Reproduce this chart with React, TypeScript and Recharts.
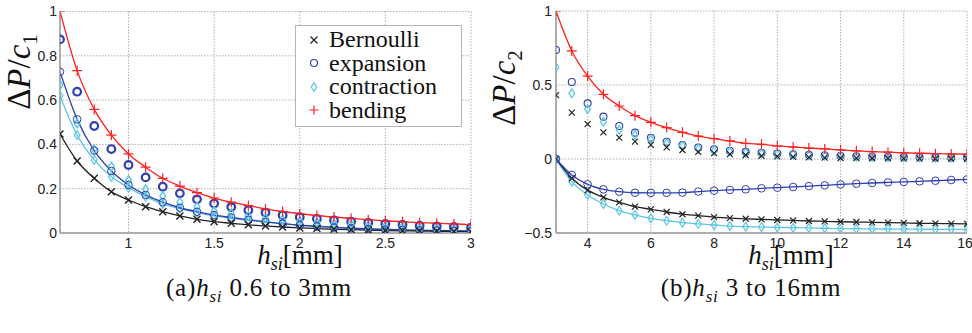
import React from 'react';
import { LineChart, Line, XAxis, YAxis, CartesianGrid } from 'recharts';

// panel (a): h_si 0.6 .. 3 mm
const xA = [0.6, 0.7, 0.8, 0.9, 1.0, 1.1, 1.2, 1.3, 1.4, 1.5, 1.6, 1.7, 1.8, 1.9, 2.0, 2.1, 2.2, 2.3, 2.4, 2.5, 2.6, 2.7, 2.8, 2.9, 3.0];
const bendA = [1.0, 0.733, 0.558, 0.442, 0.357, 0.297, 0.247, 0.212, 0.182, 0.158, 0.139, 0.124, 0.108, 0.097, 0.087, 0.079, 0.072, 0.066, 0.06, 0.055, 0.051, 0.047, 0.044, 0.041, 0.038];
const expMeasA = [0.874, 0.638, 0.483, 0.379, 0.307, 0.251, 0.209, 0.179, 0.152, 0.133, 0.117, 0.103, 0.092, 0.08, 0.071, 0.064, 0.057, 0.051, 0.046, 0.041, 0.037, 0.033, 0.03, 0.027, 0.024];
const conMeasA = [0.668, 0.495, 0.378, 0.3, 0.239, 0.197, 0.167, 0.139, 0.119, 0.1, 0.089, 0.077, 0.068, 0.06, 0.054, 0.048, 0.043, 0.039, 0.035, 0.031, 0.028, 0.025, 0.023, 0.02, 0.018];
const expA = [0.728, 0.513, 0.372, 0.28, 0.217, 0.172, 0.139, 0.114, 0.096, 0.081, 0.07, 0.06, 0.05, 0.042, 0.035, 0.03, 0.025, 0.021, 0.018, 0.016, 0.014, 0.012, 0.011, 0.01, 0.009];
const conA = [0.62, 0.442, 0.33, 0.254, 0.205, 0.164, 0.131, 0.11, 0.092, 0.077, 0.066, 0.057, 0.049, 0.042, 0.036, 0.031, 0.027, 0.023, 0.02, 0.017, 0.015, 0.013, 0.012, 0.011, 0.01];
const bernA = [0.447, 0.325, 0.247, 0.186, 0.149, 0.119, 0.096, 0.077, 0.062, 0.051, 0.044, 0.037, 0.032, 0.027, 0.023, 0.02, 0.017, 0.015, 0.013, 0.011, 0.01, 0.009, 0.008, 0.007, 0.006];
const xTicksA = [0.6, 1, 1.5, 2, 2.5, 3];
const yTicksA = [0, 0.2, 0.4, 0.6, 0.8, 1];

// panel (b): h_si 3 .. 16 mm
const xB = [3, 3.5, 4, 4.5, 5, 5.5, 6, 6.5, 7, 7.5, 8, 8.5, 9, 9.5, 10, 10.5, 11, 11.5, 12, 12.5, 13, 13.5, 14, 14.5, 15, 15.5, 16];
const bendB = [1.0, 0.73, 0.56, 0.437, 0.358, 0.293, 0.248, 0.212, 0.18, 0.155, 0.137, 0.122, 0.106, 0.099, 0.088, 0.081, 0.074, 0.068, 0.061, 0.055, 0.05, 0.046, 0.042, 0.039, 0.036, 0.034, 0.032];
const expMeasB = [0.736, 0.52, 0.376, 0.286, 0.223, 0.178, 0.144, 0.117, 0.095, 0.078, 0.066, 0.056, 0.048, 0.042, 0.037, 0.032, 0.028, 0.025, 0.022, 0.019, 0.017, 0.015, 0.013, 0.012, 0.011, 0.01, 0.009];
const conMeasB = [0.62, 0.444, 0.336, 0.252, 0.196, 0.162, 0.133, 0.106, 0.088, 0.068, 0.056, 0.05, 0.043, 0.038, 0.034, 0.03, 0.025, 0.022, 0.019, 0.016, 0.014, 0.012, 0.011, 0.01, 0.009, 0.008, 0.007];
const bernMeasB = [0.432, 0.313, 0.236, 0.18, 0.144, 0.117, 0.095, 0.079, 0.061, 0.048, 0.04, 0.033, 0.027, 0.022, 0.018, 0.014, 0.011, 0.009, 0.007, 0.006, 0.005, 0.004, 0.003, 0.003, 0.002, 0.002, 0.002];
const expB = [0, -0.108, -0.171, -0.205, -0.221, -0.228, -0.229, -0.229, -0.227, -0.22, -0.214, -0.209, -0.205, -0.198, -0.194, -0.189, -0.183, -0.178, -0.172, -0.167, -0.162, -0.158, -0.155, -0.151, -0.147, -0.142, -0.138];
const bernB = [0, -0.13, -0.21, -0.259, -0.293, -0.322, -0.34, -0.358, -0.373, -0.383, -0.393, -0.399, -0.404, -0.408, -0.412, -0.415, -0.419, -0.421, -0.424, -0.426, -0.428, -0.43, -0.432, -0.434, -0.435, -0.437, -0.438];
const conB = [0, -0.153, -0.243, -0.304, -0.349, -0.378, -0.401, -0.417, -0.43, -0.439, -0.446, -0.453, -0.457, -0.46, -0.462, -0.464, -0.466, -0.468, -0.47, -0.471, -0.472, -0.473, -0.474, -0.474, -0.475, -0.475, -0.476];
const xTicksB = [3, 4, 6, 8, 10, 12, 14, 16];
const yTicksB = [-0.5, 0, 0.5, 1];

const legendItems = [
  { name: 'Bernoulli', shape: 'x', color: '#222222' },
  { name: 'expansion', shape: 'o', color: '#2f3fb0' },
  { name: 'contraction', shape: 'd', color: '#5cc6e4' },
  { name: 'bending', shape: '+', color: '#ff2020' },
];

const RED = '#ff2020';
const BLUE = '#2f3fb0';
const CYAN = '#5cc6e4';
const BLACK = '#222222';

const serif = 'Liberation Serif, DejaVu Serif, serif';
const sans = 'Liberation Sans, Arial, sans-serif';

const rows = (xs: number[], ys: number[]) => xs.map((x, i) => ({ x, y: ys[i] }));

const Marker = ({ shape, cx, cy, color, r = 4, sw = 1 }: any) => {
  if (shape === 'x') {
    return <path d={`M${cx - r},${cy - r}L${cx + r},${cy + r}M${cx - r},${cy + r}L${cx + r},${cy - r}`} stroke={color} strokeWidth={sw} fill="none" />;
  }
  if (shape === 'o') {
    return <circle cx={cx} cy={cy} r={r} stroke={color} strokeWidth={sw} fill="none" />;
  }
  if (shape === 'd') {
    return <path d={`M${cx},${cy - r * 1.2}L${cx + r * 0.8},${cy}L${cx},${cy + r * 1.2}L${cx - r * 0.8},${cy}Z`} stroke={color} strokeWidth={sw} fill="none" />;
  }
  return <path d={`M${cx - r},${cy}L${cx + r},${cy}M${cx},${cy - r}L${cx},${cy + r}`} stroke={color} strokeWidth={sw} fill="none" />;
};

const dot = (shape: string, color: string, r: number, sw: number) => (p: any) => (
  <g key={`${shape}-${color}-${p.index}`}>
    {p.cx != null && p.cy != null && <Marker shape={shape} cx={p.cx} cy={p.cy} color={color} r={r} sw={sw} />}
  </g>
);

const tickStyle = { fontSize: 14, fill: '#222', fontFamily: sans };
const axisLine = { stroke: '#9a9a9a', strokeWidth: 1.5 };

const fmt = (v: number) => (v < 0 ? '\u2212' + String(-v) : String(v));

const Legend = () => (
  <div style={{ position: 'absolute', left: 295, top: 25, width: 167, height: 102, border: '1px solid #b5b5b5', background: '#fff', boxSizing: 'border-box', paddingTop: 2 }}>
    {legendItems.map((it) => (
      <div key={it.name} style={{ display: 'flex', alignItems: 'center', height: 23.5, lineHeight: '23px', fontFamily: serif, fontSize: 24, color: '#111' }}>
        <svg width={33} height={20} style={{ flex: 'none' }}>
          <Marker shape={it.shape} cx={18} cy={10} color={it.color} r={it.shape === '+' ? 4.5 : 3.5} sw={1.2} />
        </svg>
        <span>{it.name}</span>
      </div>
    ))}
  </div>
);

const YTitle = ({ x, y, sub }: { x: number; y: number; sub: string }) => (
  <div style={{ position: 'absolute', left: x, top: y, transform: 'translate(-50%, -50%) rotate(-90deg)', whiteSpace: 'nowrap', fontFamily: serif, fontSize: 33, lineHeight: '33px', color: '#111' }}>
    Δ<i>P</i>/<i>c</i><sub style={{ fontSize: 21 }}>{sub}</sub>
  </div>
);

const XTitle = ({ x, y }: { x: number; y: number }) => (
  <div style={{ position: 'absolute', left: x, top: y, transform: 'translate(-50%, -50%)', whiteSpace: 'nowrap', fontFamily: serif, fontSize: 27, lineHeight: '27px', color: '#111' }}>
    <i>h</i><sub style={{ fontSize: 18 }}><i>si</i></sub>[mm]
  </div>
);

const Caption = ({ x, y, tag, text }: { x: number; y: number; tag: string; text: string }) => (
  <div style={{ position: 'absolute', left: x, top: y, transform: 'translate(-50%, -50%)', whiteSpace: 'nowrap', fontFamily: serif, fontSize: 25, lineHeight: '25px', color: '#111', letterSpacing: 0.8 }}>
    ({tag})<i>h</i><sub style={{ fontSize: 17 }}><i>si</i></sub> {text}
  </div>
);

export default function App() {
  return (
    <div style={{ position: 'absolute', left: 0, top: 0, width: 972, height: 333, background: '#fff', overflow: 'hidden' }}>
      <div style={{ position: 'absolute', left: 0, top: 0 }}>
        <LineChart width={480} height={280} margin={{ top: 11.5, right: 9, left: 0, bottom: 17 }}>
          <CartesianGrid stroke="#b0b0b0" strokeDasharray="1.5 1.5" />
          <XAxis type="number" dataKey="x" domain={[0.6, 3]} ticks={xTicksA} tickFormatter={(v) => (v === 0.6 ? '' : String(v))} tick={tickStyle} tickSize={0} tickMargin={5} height={30} axisLine={axisLine} allowDataOverflow />
          <YAxis type="number" domain={[0, 1]} ticks={yTicksA} tickFormatter={fmt} tick={tickStyle} tickSize={0} tickMargin={3} width={60} axisLine={axisLine} allowDataOverflow />
          <Line data={rows(xA, expMeasA)} dataKey="y" stroke="none" dot={dot('o', BLUE, 3.8, 2.2)} isAnimationActive={false} />
          <Line data={rows(xA, conMeasA)} dataKey="y" stroke="none" dot={dot('d', CYAN, 3.6, 1.4)} isAnimationActive={false} />
          <Line data={rows(xA, bendA)} type="monotone" dataKey="y" stroke={RED} strokeWidth={1.3} dot={dot('+', RED, 5, 1.2)} isAnimationActive={false} />
          <Line data={rows(xA, conA)} type="monotone" dataKey="y" stroke={CYAN} strokeWidth={1.3} dot={dot('d', CYAN, 3.6, 1.2)} isAnimationActive={false} />
          <Line data={rows(xA, expA)} type="monotone" dataKey="y" stroke={BLUE} strokeWidth={1.3} dot={dot('o', BLUE, 3.8, 1)} isAnimationActive={false} />
          <Line data={rows(xA, bernA)} type="monotone" dataKey="y" stroke={BLACK} strokeWidth={1.3} dot={dot('x', BLACK, 3.5, 1.4)} isAnimationActive={false} />
        </LineChart>
      </div>
      <div style={{ position: 'absolute', left: 480, top: 0 }}>
        <LineChart width={492} height={280} margin={{ top: 11, right: 5, left: 0, bottom: 17 }}>
          <CartesianGrid stroke="#b0b0b0" strokeDasharray="1.5 1.5" />
          <XAxis type="number" dataKey="x" domain={[3, 16]} ticks={xTicksB} tickFormatter={(v) => (v === 3 ? '' : String(v))} tick={tickStyle} tickSize={0} tickMargin={5} height={30} axisLine={axisLine} allowDataOverflow />
          <YAxis type="number" domain={[-0.5, 1]} ticks={yTicksB} tickFormatter={fmt} tick={tickStyle} tickSize={0} tickMargin={4} width={76} axisLine={axisLine} allowDataOverflow />
          <Line data={rows(xB, expMeasB)} dataKey="y" stroke="none" dot={dot('o', BLUE, 3.5, 1.1)} isAnimationActive={false} />
          <Line data={rows(xB, conMeasB)} dataKey="y" stroke="none" dot={dot('d', CYAN, 3.6, 1.3)} isAnimationActive={false} />
          <Line data={rows(xB, bernMeasB)} dataKey="y" stroke="none" dot={dot('x', BLACK, 3, 1.2)} isAnimationActive={false} />
          <Line data={rows(xB, bendB)} type="monotone" dataKey="y" stroke={RED} strokeWidth={1.3} dot={dot('+', RED, 5, 1.2)} isAnimationActive={false} />
          <Line data={rows(xB, conB)} type="monotone" dataKey="y" stroke={CYAN} strokeWidth={1.3} dot={dot('d', CYAN, 3.6, 1.2)} isAnimationActive={false} />
          <Line data={rows(xB, bernB)} type="monotone" dataKey="y" stroke={BLACK} strokeWidth={1.3} dot={dot('x', BLACK, 3, 1.2)} isAnimationActive={false} />
          <Line data={rows(xB, expB)} type="monotone" dataKey="y" stroke={BLUE} strokeWidth={1.3} dot={dot('o', BLUE, 3.8, 1)} isAnimationActive={false} />
        </LineChart>
      </div>
      <Legend />
      <YTitle x={25} y={72} sub="1" />
      <YTitle x={510} y={88} sub="2" />
      <XTitle x={300} y={260} />
      <XTitle x={791} y={260} />
      <Caption x={259} y={292} tag="a" text="0.6 to 3mm" />
      <Caption x={751} y={292} tag="b" text="3 to 16mm" />
    </div>
  );
}
